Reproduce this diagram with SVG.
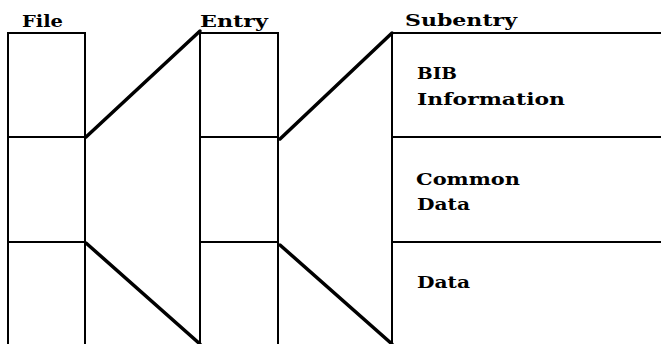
<svg xmlns="http://www.w3.org/2000/svg" width="661" height="344" viewBox="0 0 661 344">
<style>
  .box { fill: none; stroke: #000; stroke-width: 2; stroke-linecap: square; }
  .conn { fill: none; stroke: #000; stroke-width: 3.5; stroke-linecap: round; }
  .lbl { font-family: "DejaVu Serif", "Liberation Serif", serif; font-weight: bold; font-size: 16px; fill: #000; }
</style>
<rect width="661" height="344" fill="#fff"/>
<g id="file">
  <path class="box" d="M8,345 V33 H85 V345 M8,137 H85 M8,242 H85"/>
  <text class="lbl" x="22" y="27" textLength="41" lengthAdjust="spacingAndGlyphs">File</text>
</g>
<g id="entry">
  <path class="box" d="M200,345 V33 H278 V345 M200,137 H278 M200,242 H278"/>
  <text class="lbl" x="200" y="27" textLength="68" lengthAdjust="spacingAndGlyphs">Entry</text>
</g>
<g id="subentry">
  <path class="box" d="M392,345 V33 H662 M392,137 H662 M392,242 H662"/>
  <text class="lbl" x="405" y="26" textLength="112" lengthAdjust="spacingAndGlyphs">Subentry</text>
  <text class="lbl" x="417" y="79" textLength="40" lengthAdjust="spacingAndGlyphs">BIB</text>
  <text class="lbl" x="417" y="105" textLength="148" lengthAdjust="spacingAndGlyphs">Information</text>
  <text class="lbl" x="416" y="185" textLength="104" lengthAdjust="spacingAndGlyphs">Common</text>
  <text class="lbl" x="417" y="210" textLength="53" lengthAdjust="spacingAndGlyphs">Data</text>
  <text class="lbl" x="417" y="288" textLength="53" lengthAdjust="spacingAndGlyphs">Data</text>
</g>
<g id="connectors">
  <line class="conn" x1="86" y1="137" x2="200" y2="31"/>
  <line class="conn" x1="86" y1="243" x2="200" y2="344"/>
  <line class="conn" x1="280" y1="139" x2="392" y2="33"/>
  <line class="conn" x1="280" y1="245" x2="392" y2="344"/>
</g>
</svg>
